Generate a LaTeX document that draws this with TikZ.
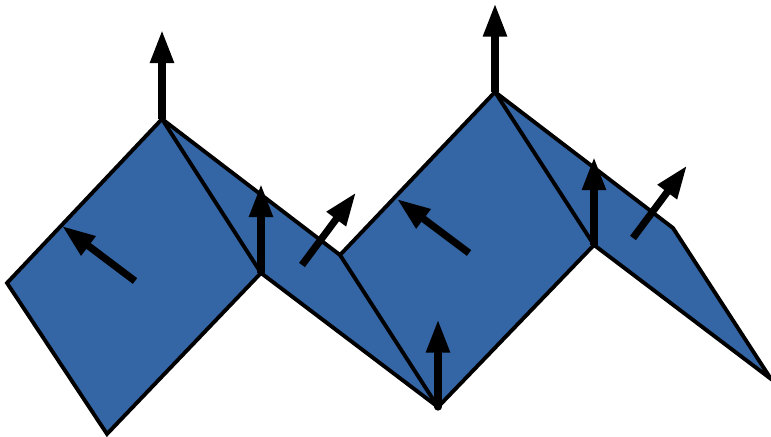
\documentclass[tikz,border=0pt]{standalone}
\usepackage{tikz}
\usetikzlibrary{arrows.meta}
\definecolor{Sheet}{HTML}{3465A4}
\definecolor{Ink}{HTML}{000000}

\begin{document}
\begin{tikzpicture}[
        foldedge/.style={Ink,line width=2.2pt,line join=miter},
        normalarrow/.style={Ink,line width=4.1pt,-{Triangle[length=18.9pt,width=12.8pt]}}
      ]
        \useasboundingbox (0,0) rectangle (15.42,8.72);
        % folded sheet corners
        \coordinate (left) at (0.14,3.06);
        \coordinate (peakA) at (3.24,6.34);
        \coordinate (notchA) at (6.80,3.62);
        \coordinate (peakB) at (9.90,6.88);
        \coordinate (right) at (13.46,4.16);
        \coordinate (tail) at (15.42,1.14);
        \coordinate (valleyB) at (11.88,3.82);
        \coordinate (valleyC) at (8.76,0.58);
        \coordinate (valleyA) at (5.22,3.26);
        \coordinate (bottom) at (2.14,0.04);
        \fill[Sheet] (left) -- (peakA) -- (notchA) -- (peakB) -- (right) -- (tail)
              -- (valleyB) -- (valleyC) -- (valleyA) -- (bottom) -- cycle;
        \draw[foldedge] (left) -- (peakA) -- (notchA) -- (peakB) -- (right) -- (tail)
              -- (valleyB) -- (valleyC) -- (valleyA) -- (bottom) -- cycle;
        % creases
        \draw[foldedge] (peakA) -- (valleyA);
        \draw[foldedge] (notchA) -- (valleyC);
        \draw[foldedge] (peakB) -- (valleyB);
        % vertical arrows
        \draw[normalarrow] (peakA) -- (3.24,8.12);
        \draw[normalarrow] (valleyA) -- (5.22,5.04);
        \draw[normalarrow,line cap=round] (valleyC) -- (8.76,2.33);
        \draw[normalarrow] (peakB) -- (9.90,8.65);
        \draw[normalarrow] (valleyB) -- (11.88,5.58);
        % slanted arrows
        \draw[normalarrow] (2.70,3.10) -- (1.24,4.20);
        \draw[normalarrow] (9.38,3.66) -- (7.94,4.74);
        \draw[normalarrow] (6.04,3.42) -- (7.12,4.87);
        \draw[normalarrow] (12.66,3.96) -- (13.74,5.41);
      \end{tikzpicture}
\end{document}
